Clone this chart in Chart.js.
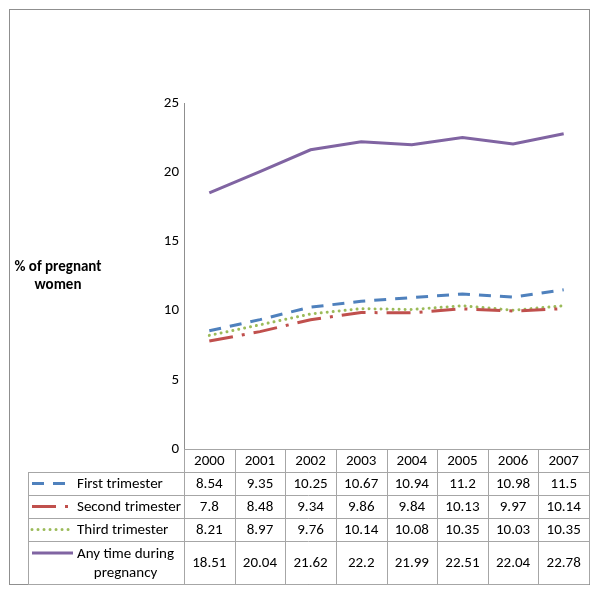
<!DOCTYPE html>
<html><head><meta charset="utf-8">
<script src="https://cdn.jsdelivr.net/npm/chart.js@4/dist/chart.umd.min.js"></script>
<style>html,body{margin:0;padding:0;background:#fff}canvas{display:block}</style>
</head><body>
<canvas id="c" width="600" height="600"></canvas>
<script>
const years = ['2000','2001','2002','2003','2004','2005','2006','2007'];
const firstTrimester = [8.54, 9.35, 10.25, 10.67, 10.94, 11.2, 10.98, 11.5];
const secondTrimester = [7.8, 8.48, 9.34, 9.86, 9.84, 10.13, 9.97, 10.14];
const thirdTrimester = [8.21, 8.97, 9.76, 10.14, 10.08, 10.35, 10.03, 10.35];
const anyTime = [18.51, 20.04, 21.62, 22.2, 21.99, 22.51, 22.04, 22.78];
const seriesNames = ['First trimester', 'Second trimester', 'Third trimester', 'Any time during pregnancy'];
const yTicks = [0, 5, 10, 15, 20, 25];
const yTitle = ['% of pregnant', 'women'];

const FONT = "Carlito, Lato, 'Open Sans', sans-serif";
const FS = 15;
const TEXT = '#000';
const GRID = '#a6a6a6';

const tablePlugin = {
  id: 'tablePlugin',
  beforeDraw(chart) {
    const ctx = chart.ctx;
    ctx.save();
    ctx.fillStyle = '#fff';
    ctx.fillRect(0, 0, chart.width, chart.height);
    ctx.restore();
  },
  afterDraw(chart) {
    const ctx = chart.ctx;
    const xs = chart.scales.x;
    const ca = chart.chartArea;
    const step = xs.getPixelForValue(1) - xs.getPixelForValue(0);
    const L = Math.round(ca.left), R = Math.round(ca.right);
    const legL = 28;
    const rows = [Math.round(ca.bottom), 472, 495, 518, 541, 584];
    ctx.save();
    // outer border
    ctx.strokeStyle = '#8f8f8f';
    ctx.lineWidth = 1;
    ctx.strokeRect(9.5, 9.5, R - 9, rows[5] - 9);
    // table lines
    ctx.strokeStyle = GRID;
    ctx.beginPath();
    ctx.moveTo(L, rows[0] + 0.5); ctx.lineTo(R, rows[0] + 0.5);
    for (let r = 1; r < rows.length; r++) {
      ctx.moveTo(legL, rows[r] + 0.5); ctx.lineTo(R, rows[r] + 0.5);
    }
    ctx.moveTo(legL + 0.5, rows[1]); ctx.lineTo(legL + 0.5, rows[5]);
    for (let i = 0; i <= years.length; i++) {
      const x = Math.round(L + i * step) + 0.5;
      ctx.moveTo(x, rows[0]); ctx.lineTo(x, rows[5]);
    }
    ctx.stroke();
    // header
    ctx.font = FS + 'px ' + FONT;
    ctx.fillStyle = TEXT;
    ctx.textAlign = 'center';
    ctx.textBaseline = 'middle';
    years.forEach((y, i) => {
      ctx.fillText(y, xs.getPixelForValue(i), (rows[0] + rows[1]) / 2 + 1);
    });
    // rows
    chart.data.datasets.forEach((ds, r) => {
      const yc = (rows[r + 1] + rows[r + 2]) / 2 + 1;
      ds.data.forEach((v, i) => {
        ctx.textAlign = 'center';
        ctx.fillText(String(v), xs.getPixelForValue(i), yc);
      });
      // legend sample
      ctx.save();
      ctx.strokeStyle = ds.borderColor;
      ctx.lineWidth = ds.borderWidth;
      ctx.lineCap = ds.borderCapStyle || 'butt';
      ctx.setLineDash(ds.borderDash || []);
      const ly = r === 3 ? 553 : yc - 1;
      ctx.beginPath();
      ctx.moveTo(32, ly); ctx.lineTo(73, ly);
      ctx.stroke();
      ctx.restore();
      // label
      const name = seriesNames[r];
      if (r === 3) {
        const l1 = 'Any time during', l2 = 'pregnancy';
        const w1 = ctx.measureText(l1).width;
        ctx.textAlign = 'left';
        ctx.fillText(l1, 77, 554);
        ctx.textAlign = 'center';
        ctx.fillText(l2, 77 + w1 / 2, 573);
      } else {
        ctx.textAlign = 'left';
        ctx.fillText(name, 77, yc);
      }
    });
    // y title
    ctx.font = 'bold ' + FS + 'px ' + FONT;
    ctx.textAlign = 'center';
    ctx.fillText(yTitle[0], 58, 267);
    ctx.fillText(yTitle[1], 58, 285);
    ctx.restore();
  }
};

new Chart(document.getElementById('c'), {
  type: 'line',
  data: {
    labels: years,
    datasets: [
      { label: seriesNames[0], data: firstTrimester, borderColor: '#4f81bd', borderWidth: 3, borderDash: [12, 9], borderCapStyle: 'butt' },
      { label: seriesNames[1], data: secondTrimester, borderColor: '#c0504d', borderWidth: 3, borderDash: [24, 9, 3, 9], borderCapStyle: 'butt' },
      { label: seriesNames[2], data: thirdTrimester, borderColor: '#9bbb59', borderWidth: 3, borderDash: [0.01, 6], borderCapStyle: 'round' },
      { label: seriesNames[3], data: anyTime, borderColor: '#8064a2', borderWidth: 3, borderCapStyle: 'butt' }
    ]
  },
  options: {
    responsive: false,
    animation: false,
    devicePixelRatio: 1,
    layout: { padding: { left: 0, top: 103, right: 11, bottom: 151 } },
    elements: { point: { radius: 0 }, line: { tension: 0 } },
    plugins: { legend: { display: false }, tooltip: { enabled: false } },
    scales: {
      x: {
        offset: true,
        grid: { display: false, drawTicks: false },
        ticks: { display: false },
        border: { display: false },
        afterFit(s) { s.height = 0; }
      },
      y: {
        min: 0, max: 25,
        afterBuildTicks(s) { s.ticks = yTicks.map(v => ({ value: v })); },
        ticks: { padding: 5, color: TEXT, font: { size: FS, family: FONT } },
        grid: { display: false, drawTicks: false },
        border: { display: true, color: '#8f8f8f', width: 1 },
        afterFit(s) { s.width = 184; }
      }
    }
  },
  plugins: [tablePlugin]
});
</script>
</body></html>
